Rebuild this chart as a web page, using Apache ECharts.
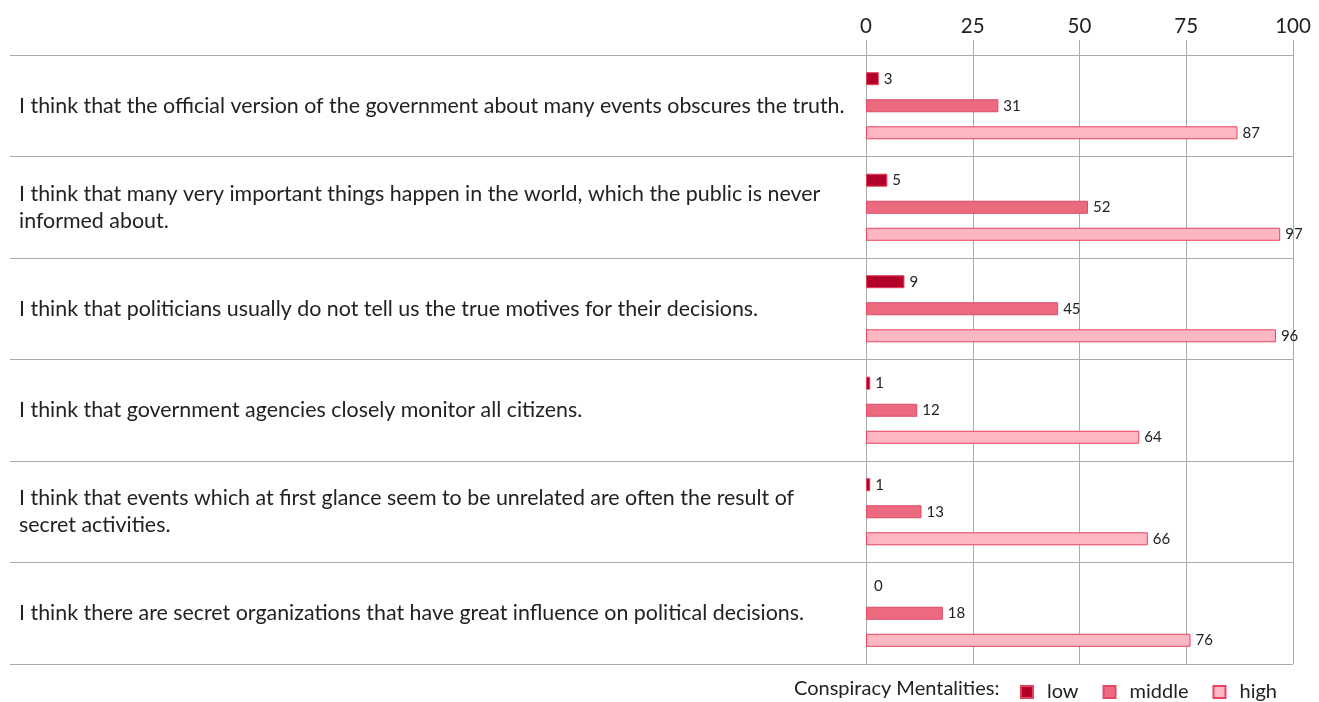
<!DOCTYPE html>
<html><head><meta charset="utf-8">
<script src="https://cdn.jsdelivr.net/npm/echarts@6/dist/echarts.min.js"></script>
<style>html,body{margin:0;padding:0;background:#fff}#c{width:1319px;height:702px}</style>
</head><body><div id="c"></div>
<script>
const categories = [
  "I think that the official version of the government about many events obscures the truth.",
  "I think that many very important things happen in the world, which the public is never informed about.",
  "I think that politicians usually do not tell us the true motives for their decisions.",
  "I think that government agencies closely monitor all citizens.",
  "I think that events which at first glance seem to be unrelated are often the result of secret activities.",
  "I think there are secret organizations that have great influence on political decisions."
];
const seriesNames = ["low", "middle", "high"];
const lowValues = [3, 5, 9, 1, 1, 0];
const middleValues = [31, 52, 45, 12, 13, 18];
const highValues = [87, 97, 96, 64, 66, 76];
const xTicks = [0, 25, 50, 75, 100];

const fills = ["#b3002b", "#ec6a80", "#fdb7c2"];
const borders = ["#e2405c", "#e04a66", "#e9435f"];
const FONT = "Lato";
const grid = "#aaaaaa";

const chart = echarts.init(document.getElementById('c'));
const vals = [lowValues, middleValues, highValues];
chart.setOption({
  animation: false,
  textStyle: { fontFamily: FONT },
  grid: { left: 866, right: 26, top: 55, bottom: 38, containLabel: false },
  xAxis: {
    type: 'value', position: 'top', min: xTicks[0], max: xTicks[xTicks.length - 1], interval: 25,
    axisLine: { show: false },
    axisTick: { show: true, length: 15, lineStyle: { color: grid } },
    axisLabel: { margin: 18, fontSize: 20.5, color: '#222', fontFamily: FONT },
    splitLine: { show: true, lineStyle: { color: grid, width: 1 } }
  },
  yAxis: {
    type: 'category', data: categories, inverse: true,
    axisLine: { show: true, lineStyle: { color: grid } },
    axisTick: { show: true, length: 856, interval: 0, lineStyle: { color: grid } },
    splitLine: { show: true, interval: 0, lineStyle: { color: grid } },
    axisLabel: {
      interval: 0, align: 'left', margin: 847, width: 840, overflow: 'break',
      fontSize: 21.4, lineHeight: 27, color: '#222', fontFamily: FONT, padding: [4, 0, 0, 0]
    }
  },
  legend: {
    data: seriesNames, right: 37, top: 677, itemWidth: 12, itemHeight: 12, itemGap: 24,
    icon: 'rect',
    textStyle: { fontSize: 20, color: '#222', fontFamily: FONT, padding: [0, 0, 0, 9] }
  },
  graphic: [{
    type: 'text', left: 794, top: 679,
    style: { text: 'Conspiracy Mentalities:', fontSize: 20, fill: '#222', fontFamily: FONT }
  }],
  series: seriesNames.map((n, i) => ({
    name: n, type: 'bar', barWidth: 13, barGap: '108%',
    data: vals[i].map(v => v === 0 ? { value: v, itemStyle: { borderWidth: 0 }, label: { distance: 8 } } : v),
    itemStyle: { color: fills[i], borderColor: borders[i], borderWidth: 1 },
    label: { show: true, position: 'right', distance: 5, fontSize: 15, color: '#222', fontFamily: FONT }
  }))
});
</script></body></html>
